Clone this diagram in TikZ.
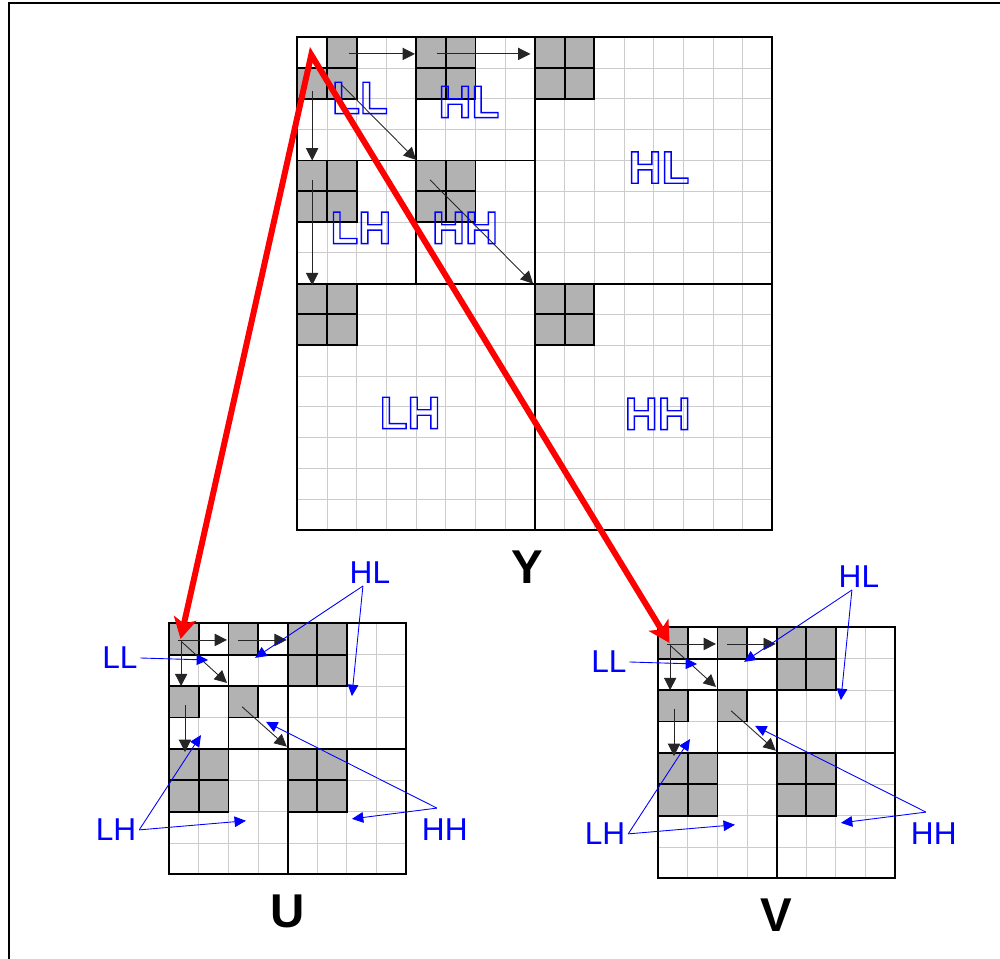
\documentclass[tikz,border=0pt]{standalone}
\usepackage{fontspec}
\setmainfont{Liberation Sans}
\usepackage{xcolor}
\usetikzlibrary{arrows.meta}
\definecolor{cellgray}{RGB}{178,178,178}
\definecolor{gridgray}{RGB}{204,204,204}
\makeatletter
\newcommand{\hollow}[1]{\pgfsys@invoke{q 1 Tr 0.8 w}#1\pgfsys@invoke{Q}}
\makeatother

\begin{document}
\begin{tikzpicture}[x=0.02cm, y=-0.02cm,
  cell/.style={fill=cellgray},
  gridline/.style={draw=gridgray, line width=0.5pt},
  band/.style={draw=black, line width=1.1pt},
  scan/.style={black!85, line width=0.5pt, -{Triangle[length=7pt,width=7pt]}},
  pointer/.style={blue, line width=0.5pt, -{Triangle[length=6.5pt,width=6pt]}},
  zoomarrow/.style={red, line width=3.4pt, {Stealth[length=12pt,width=13pt,inset=3pt]}-{Stealth[length=12pt,width=13pt,inset=3pt]}},
  tag/.style={text=blue, font=\fontsize{18}{20}\selectfont, inner sep=1.5pt},
  subband/.style={text=blue, font=\bfseries\fontsize{26}{28}\selectfont, inner sep=0pt},
  title/.style={font=\bfseries\fontsize{27}{30}\selectfont, inner sep=0pt}]
  \useasboundingbox (0,0) rectangle (1000,959);
  \clip (0,0) rectangle (1000,959);
  \draw[line width=1.2pt] (9,3.3) rectangle (1010,970);

  % Y: three level decomposition, 16x16 coefficients
  \begin{scope}[shift={(297.3,37.3)}, x=0.594cm, y=-0.616cm]
    \foreach \c/\r in {1/0,0/1,1/1,4/0,5/0,4/1,5/1,8/0,9/0,8/1,9/1,0/4,1/4,0/5,1/5,
                       4/4,5/4,4/5,5/5,0/8,1/8,0/9,1/9,8/8,9/8,8/9,9/9}
      \fill[cell] (\c,\r) rectangle ++(1,1);
    \foreach \i in {1,...,15} {
      \draw[gridline] (\i,0) -- (\i,16);
      \draw[gridline] (0,\i) -- (16,\i);
    }
    \foreach \c/\r in {1/0,0/1,1/1,4/0,5/0,4/1,5/1,8/0,9/0,8/1,9/1,0/4,1/4,0/5,1/5,
                       4/4,5/4,4/5,5/5,0/8,1/8,0/9,1/9,8/8,9/8,8/9,9/9}
      \draw[band] (\c,\r) rectangle ++(1,1);
    \draw[band] (0,0) rectangle (16,16);
    \draw[band] (8,0) -- (8,16) (0,8) -- (16,8) (4,0) -- (4,8) (0,4) -- (8,4);
    % scan order
    \draw[scan] (1.74,0.54) -- (3.96,0.54);
    \draw[scan] (4.7,0.54) -- (7.85,0.54);
    \draw[scan] (0.5,1.74) -- (0.5,4.0);
    \draw[scan] (0.5,4.63) -- (0.5,8.05);
    \draw[scan] (1.5,1.55) -- (4.0,3.98);
    \draw[scan] (4.47,4.63) -- (7.94,8.0);
    % subbands
    \node[subband] (y-ll2) at (2.11,1.97) {\hollow{LL}};
    \node[subband] (y-hl2) at (5.78,2.10) {\hollow{HL}};
    \node[subband] (y-lh2) at (2.14,6.19) {\hollow{LH}};
    \node[subband] (y-hh2) at (5.65,6.19) {\hollow{HH}};
    \node[subband] (y-hl1) at (12.18,4.23) {\hollow{HL}};
    \node[subband] (y-lh1) at (3.80,12.2) {\hollow{LH}};
    \node[subband] (y-hh1) at (12.14,12.23) {\hollow{HH}};
    \coordinate (y-ll) at (0.47,0.57);
  \end{scope}
  \node[title] (ytitle) at (527.5,567.5) {Y};

  % U and V: 8x8 chroma planes
  \foreach \sx/\sy/\nm/\lbl in {169.3/623.3/u/U, 658.3/627.3/v/V} {
    \begin{scope}[shift={(\sx,\sy)}, x=0.592cm, y=-0.628cm]
      \foreach \c/\r in {0/0,2/0,4/0,5/0,4/1,5/1,0/2,2/2,0/4,1/4,0/5,1/5,4/4,5/4,4/5,5/5}
        \fill[cell] (\c,\r) rectangle ++(1,1);
      \foreach \i in {1,...,7} {
        \draw[gridline] (\i,0) -- (\i,8);
        \draw[gridline] (0,\i) -- (8,\i);
      }
      \foreach \c/\r in {0/0,2/0,4/0,5/0,4/1,5/1,0/2,2/2,0/4,1/4,0/5,1/5,4/4,5/4,4/5,5/5}
        \draw[band] (\c,\r) rectangle ++(1,1);
      \draw[band] (0,0) rectangle (8,8);
      \draw[band] (4,0) -- (4,8) (0,4) -- (8,4) (2,0) -- (2,4) (0,2) -- (4,2) (0,1) -- (4,1);
      % scan order
      \draw[scan] (0.3,0.53) -- (1.95,0.53);
      \draw[scan] (2.32,0.53) -- (3.97,0.53);
      \draw[scan] (0.4,0.55) -- (0.4,2.0);
      \draw[scan] (0.53,2.6) -- (0.53,4.1);
      \draw[scan] (0.43,0.6) -- (1.95,1.9);
      \draw[scan] (2.46,2.66) -- (3.97,3.93);
      % labels
      \node[tag] (\nm-ll) at (-1.67,1.105) {LL};
      \node[tag] (\nm-hl) at (6.78,-1.63) {HL};
      \node[tag] (\nm-lh) at (-1.80,6.58) {LH};
      \node[tag] (\nm-hh) at (9.31,6.58) {HH};
      \coordinate (\nm-llp) at (1.31,1.17);
      \coordinate (\nm-hlp1) at (2.9,1.10);
      \coordinate (\nm-hlp2) at (6.17,2.32);
      \coordinate (\nm-lhp1) at (1.07,3.56);
      \coordinate (\nm-lhp2) at (2.59,6.29);
      \coordinate (\nm-hhp1) at (3.27,3.14);
      \coordinate (\nm-hhp2) at (6.17,6.23);
      \draw[pointer] (\nm-ll.east) -- (\nm-llp);
      \draw[pointer] ([xshift=-4pt]\nm-hl.south) -- (\nm-hlp1);
      \draw[pointer] ([xshift=-4pt]\nm-hl.south) -- (\nm-hlp2);
      \draw[pointer] (\nm-lh.east) -- (\nm-lhp1);
      \draw[pointer] (\nm-lh.east) -- (\nm-lhp2);
      \draw[pointer] ([xshift=-4.5pt,yshift=4.5pt]\nm-hh.north) -- (\nm-hhp1);
      \draw[pointer] ([xshift=-4.5pt,yshift=4.5pt]\nm-hh.north) -- (\nm-hhp2);
      \coordinate (\nm-in) at (0.38,0.5);
      \node[title] (\nm title) at (4,9.17) {\lbl};
    \end{scope}
  }

  % LL of Y carries over to U and V
  \draw[zoomarrow] (u-in) -- (y-ll) -- (v-in);
\end{tikzpicture}
\end{document}
